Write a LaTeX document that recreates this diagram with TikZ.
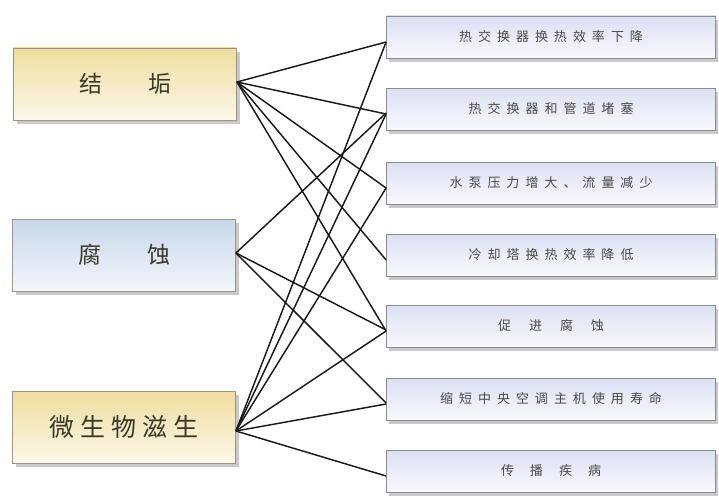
\documentclass[tikz,border=0pt]{standalone}
\usepackage{fontspec}
\newfontfamily\cjk{Noto Sans CJK SC}
\usetikzlibrary{shadows}
\definecolor{ytop}{HTML}{EFDD9E}
\definecolor{ybot}{HTML}{FCF8EA}
\definecolor{btop}{HTML}{C7D7EB}
\definecolor{bbot}{HTML}{F4F6FA}
\definecolor{rtop}{HTML}{DCE0F3}
\definecolor{rbot}{HTML}{F8F8FC}
\definecolor{lborder}{HTML}{9C9680}
\definecolor{rborder}{HTML}{8C8C94}
\definecolor{ltext}{HTML}{3A3A2A}
\definecolor{rtext}{HTML}{4A4A4A}
\newcommand{\gp}{\hspace{6pt}}
\newcommand{\gq}{\hspace{18pt}}
\newcommand{\gr}{\hspace{16pt}}
\begin{document}
\begin{tikzpicture}[x=1pt,y=-1pt,
  lbox/.style={draw=lborder, line width=0.8pt, minimum width=223pt, minimum height=72pt,
    inner sep=0pt, font=\cjk\fontsize{23}{26}\selectfont, text=ltext,
    drop shadow={shadow xshift=3pt, shadow yshift=-4pt, opacity=0.35, fill=black!60}},
  ybox/.style={lbox, top color=ytop, bottom color=ybot},
  bbox/.style={lbox, top color=btop, bottom color=bbot},
  rbox/.style={draw=rborder, line width=0.8pt, minimum width=329pt, minimum height=42pt,
    inner sep=0pt, top color=rtop, bottom color=rbot, text=rtext,
    font=\cjk\fontsize{13}{15}\selectfont,
    drop shadow={shadow xshift=2pt, shadow yshift=-4pt, opacity=0.35, fill=black!60}},
  link/.style={draw=black!90, line width=1.45pt}
]
\useasboundingbox (0,0) rectangle (719,495);
\fill[white] (0,0) rectangle (719,495);

\node[ybox] (jg) at (125,84) {结\hspace{46pt}垢};
\node[bbox] (fs) at (124,255) {腐\hspace{46pt}蚀};
\node[ybox, font=\cjk\fontsize{25}{28}\selectfont] (ws) at (124,427) {微\gp 生\gp 物\gp 滋\gp 生};

\node[rbox] (r1) at (551,37) {热\gp 交\gp 换\gp 器\gp 换\gp 热\gp 效\gp 率\gp 下\gp 降};
\node[rbox] (r2) at (551,109) {热\gp 交\gp 换\gp 器\gp 和\gp 管\gp 道\gp 堵\gp 塞};
\node[rbox] (r3) at (551,183) {水\gp 泵\gp 压\gp 力\gp 增\gp 大\gp 、\gp 流\gp 量\gp 减\gp 少};
\node[rbox] (r4) at (551,255) {冷\gp 却\gp 塔\gp 换\gp 热\gp 效\gp 率\gp 降\gp 低};
\node[rbox] (r5) at (551,326) {促\gq 进\gq 腐\gq 蚀};
\node[rbox] (r6) at (551,399) {缩\gp 短\gp 中\gp 央\gp 空\gp 调\gp 主\gp 机\gp 使\gp 用\gp 寿\gp 命};
\node[rbox] (r7) at (551,471) {传\gr 播\gr 疾\gr 病};

\begin{scope}[link]
  \foreach \t in {r1,r2,r3,r4,r5}
    \draw ([yshift=2pt]jg.east) -- ([yshift=-5pt]\t.west);
  \foreach \t in {r2,r5,r6}
    \draw ([yshift=2pt]fs.east) -- ([yshift=-4pt]\t.west);
  \foreach \t in {r1,r2,r3,r5,r6,r7}
    \draw ([yshift=-4pt]ws.east) -- ([yshift=-5pt]\t.west);
\end{scope}
\end{tikzpicture}
\end{document}
